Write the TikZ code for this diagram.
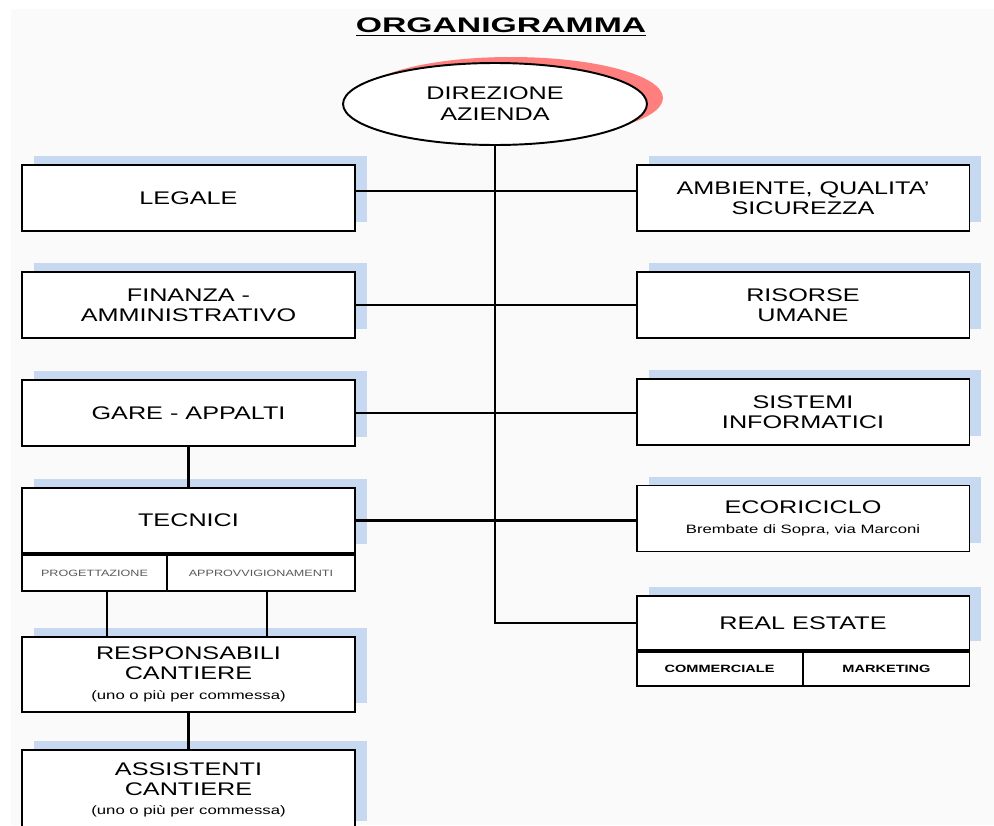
\documentclass[tikz,border=0pt]{standalone}
\usepackage{fontspec}
\setmainfont{Liberation Sans}[FakeStretch=1.38]
\newfontfamily\titlefont{Liberation Sans}[FakeStretch=1.6]
\usetikzlibrary{shapes.geometric,shadows}
\definecolor{shadowblue}{HTML}{C6D9F1}
\definecolor{shadowred}{HTML}{FF7F7F}
\definecolor{panelgray}{HTML}{FAFAFA}

\begin{document}
\begin{tikzpicture}[x=0.02cm,y=-0.02cm,
    office/.style={draw, line width=1.1pt, fill=white, inner sep=0pt, align=center,
        minimum width=6.66cm, minimum height=1.32cm, font=\fontsize{10.4}{11.2}\selectfont,
        general shadow={fill=shadowblue, shadow xshift=0.24cm, shadow yshift=0.18cm}},
    subunit/.style={draw, line width=1.1pt, fill=white, inner sep=0pt, align=center},
    link/.style={line width=1.3pt}]

        % Page and panel
        \clip (0,0) rectangle (994,825);
        \fill[panelgray] (11,9) rectangle (994,825);

        % Title
        \node[font=\titlefont\bfseries\fontsize{12}{14}\selectfont] (titolo) at (501,27) {\underline{ORGANIGRAMMA}};

        % Top node (management)
        \node[ellipse, draw, line width=1.1pt, fill=white, minimum width=6.08cm, minimum height=1.64cm,
            inner sep=0pt, align=center, font=\fontsize{10.4}{12}\selectfont,
            general shadow={fill=shadowred, shadow xshift=0.32cm, shadow yshift=0.12cm}] (direzione) at (495,104) {DIREZIONE\\AZIENDA};

        % Left column
        \node[office] (legale) at (188.5,198) {LEGALE};
        \node[office] (finanza) at (188.5,305) {FINANZA -\\AMMINISTRATIVO};
        \node[office] (gare) at (188.5,413) {GARE - APPALTI};
        \node[office, minimum height=1.3cm] (tecnici) at (188.5,520.5) {TECNICI};
        \node[subunit, anchor=north west, minimum width=2.9cm, minimum height=0.72cm, text=black!65,
            font=\fontsize{5.2}{6}\selectfont] (progettazione) at (tecnici.south west) {PROGETTAZIONE};
        \node[subunit, anchor=north east, minimum width=3.76cm, minimum height=0.72cm, text=black!65,
            font=\fontsize{5.2}{6}\selectfont] (approvvigionamenti) at (tecnici.south east) {APPROVVIGIONAMENTI};
        \node[office, minimum height=1.5cm] (responsabili) at (188.5,674.5) {RESPONSABILI\\CANTIERE\\{\fontsize{6.9}{8}\selectfont (uno o più per commessa)}};
        \node[office, minimum height=1.6cm] (assistenti) at (188.5,790) {ASSISTENTI\\CANTIERE\\{\fontsize{6.9}{8}\selectfont (uno o più per commessa)}};

        % Right column
        \node[office] (ambiente) at (803,198) {AMBIENTE, QUALITA'\\SICUREZZA};
        \node[office] (risorse) at (803,305) {RISORSE\\UMANE};
        \node[office] (sistemi) at (803,412) {SISTEMI\\INFORMATICI};
        \node[office] (ecoriciclo) at (803,518.5) {ECORICICLO\\{\fontsize{6.9}{8}\selectfont Brembate di Sopra, via Marconi}};
        \node[office, minimum height=1.08cm] (realestate) at (803,623) {REAL ESTATE};
        \node[subunit, anchor=north west, minimum width=3.32cm, minimum height=0.68cm,
            font=\bfseries\fontsize{6}{7}\selectfont] (commerciale) at (realestate.south west) {COMMERCIALE};
        \node[subunit, anchor=north east, minimum width=3.32cm, minimum height=0.68cm,
            font=\bfseries\fontsize{6}{7}\selectfont] (marketing) at (realestate.south east) {MARKETING};

        % Main trunk
        \draw[link] (direzione.south) -- (direzione.south |- realestate.west) -- (realestate.west);

        % Cross links
        \draw[link] ([yshift=0.14cm]legale.east) -- ([yshift=0.14cm]ambiente.west);
        \draw[link] (finanza.east) -- (risorse.west);
        \draw[link] (gare.east) -- (gare.east -| sistemi.west);
        \draw[link] (tecnici.east) -- (tecnici.east -| ecoriciclo.west);

        % Chain on the left
        \draw[link] (gare.south) -- (tecnici.north);
        \draw[link] ([xshift=0.25cm]progettazione.south) -- ([xshift=0.25cm]progettazione.south |- responsabili.north);
        \draw[link] ([xshift=0.12cm]approvvigionamenti.south) -- ([xshift=0.12cm]approvvigionamenti.south |- responsabili.north);
        \draw[link] (responsabili.south) -- (assistenti.north);

    \end{tikzpicture}
\end{document}
